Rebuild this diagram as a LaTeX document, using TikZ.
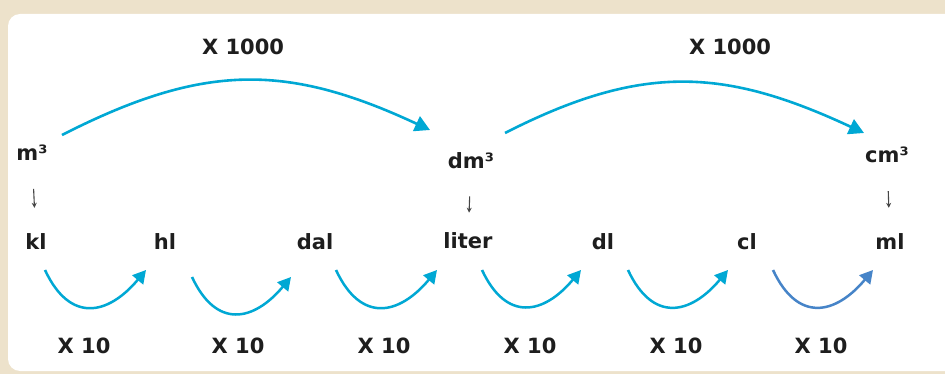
\documentclass[tikz,border=0pt]{standalone}
\usepackage{fontspec}
\setmainfont{DejaVu Sans}
\usepackage{tikz}
\usetikzlibrary{positioning,arrows.meta}
\definecolor{panelbeige}{RGB}{237,226,203}
\definecolor{arccyan}{RGB}{0,168,212}
\definecolor{arcblue}{RGB}{70,132,200}
\definecolor{darkgrey}{RGB}{70,70,70}
\definecolor{inkblack}{RGB}{30,30,30}
\tikzset{
  bigarrow/.style={-{Triangle[length=15pt,width=16pt]}, line width=2.6pt, draw=arccyan},
  smallarc/.style={-{Triangle[length=13pt,width=14pt]}, line width=2.5pt, draw=arccyan},
  downarrow/.style={-{Stealth[length=5pt,width=5pt]}, line width=1.1pt, draw=darkgrey, shorten <=28pt, shorten >=26pt},
  unit/.style={font=\fontsize{21}{23}\selectfont\bfseries, text=inkblack, inner sep=0pt},
  factor/.style={font=\fontsize{21}{24}\selectfont\bfseries, text=inkblack, inner sep=0pt}
}

\begin{document}
\begin{tikzpicture}[x=1pt, y=1pt]
  \useasboundingbox (0,0) rectangle (945,-374);
  \fill[panelbeige] (0,0) rectangle (945,-374);
  \fill[white, rounded corners=12pt] (8,-14) rectangle (980,-371);

  % volume units
  \node[unit] (m3) at (32,-153) {m³};
  \node[unit] (dm3) at (471,-161) {dm³};
  \node[unit] (cm3) at (887,-155) {cm³};

  % liquid units
  \node[unit] (kl) at (36,-242) {kl};
  \node[unit] (hl) at (165,-242) {hl};
  \node[unit] (dal) at (315,-242) {dal};
  \node[unit] (liter) at (468,-241) {liter};
  \node[unit] (dl) at (603,-242) {dl};
  \node[unit] (cl) at (747,-242) {cl};
  \node[unit] (ml) at (890,-242) {ml};

  % factors
  \node[factor] (big1) at (243,-47) {X 1000};
  \node[factor] (big2) at (730,-47) {X 1000};
  \node[factor] (ten1) at (84,-346) {X 10};
  \node[factor] (ten2) at (238,-346) {X 10};
  \node[factor] (ten3) at (384,-346) {X 10};
  \node[factor] (ten4) at (530,-346) {X 10};
  \node[factor] (ten5) at (676,-346) {X 10};
  \node[factor] (ten6) at (821,-346) {X 10};

  \draw[downarrow] (m3) -- (kl);
  \draw[downarrow, shorten <=27pt, shorten >=20pt] (dm3) -- (liter);
  \draw[downarrow] (cm3) -- (ml);

  \draw[bigarrow] ([shift={(30pt,18pt)}]m3.center) to[out=27, in=155, looseness=1.1] ([shift={(-41pt,31pt)}]dm3.center);
  \draw[bigarrow] ([shift={(34pt,28pt)}]dm3.center) to[out=27, in=155, looseness=1.1] ([shift={(-23pt,22pt)}]cm3.center);

  \draw[smallarc] ([shift={(9pt,-28pt)}]kl.center) to[out=-65, in=-130, looseness=1.5] ([shift={(-19pt,-28pt)}]hl.center);
  \draw[smallarc] ([shift={(27pt,-35pt)}]hl.center) to[out=-65, in=-130, looseness=1.5] ([shift={(-24pt,-35pt)}]dal.center);
  \draw[smallarc] ([shift={(21pt,-28pt)}]dal.center) to[out=-65, in=-130, looseness=1.5] ([shift={(-31pt,-29pt)}]liter.center);
  \draw[smallarc] ([shift={(14pt,-29pt)}]liter.center) to[out=-65, in=-130, looseness=1.5] ([shift={(-22pt,-28pt)}]dl.center);
  \draw[smallarc] ([shift={(25pt,-28pt)}]dl.center) to[out=-65, in=-130, looseness=1.5] ([shift={(-19pt,-28pt)}]cl.center);
  \draw[smallarc, draw=arcblue] ([shift={(26pt,-28pt)}]cl.center) to[out=-65, in=-130, looseness=1.5] ([shift={(-17pt,-28pt)}]ml.center);
\end{tikzpicture}
\end{document}
